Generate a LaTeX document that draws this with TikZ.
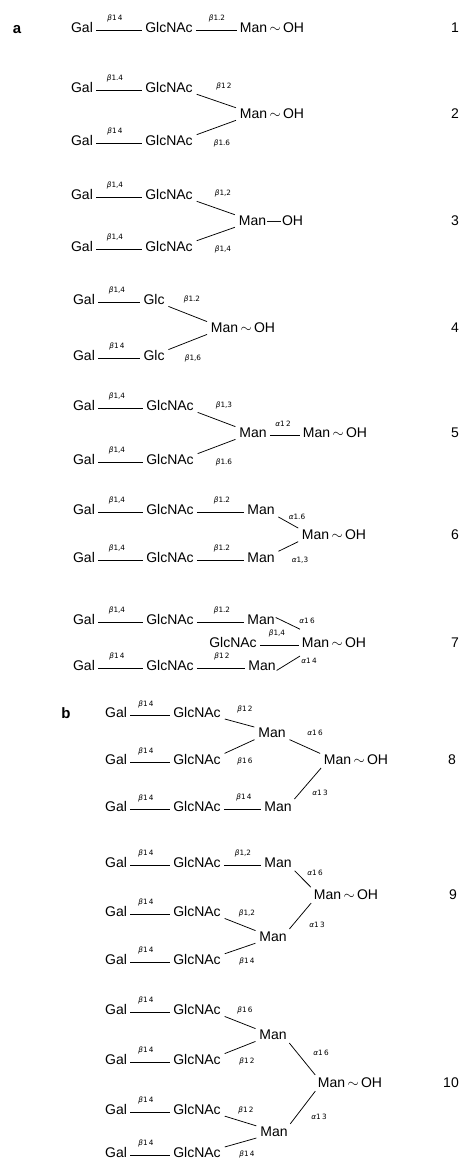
\documentclass[tikz,border=0pt]{standalone}
\usepackage{fontspec}
\setmainfont{Liberation Sans}
\newfontfamily\lblfam{DejaVu Sans}
\newcommand\sugsz{\fontsize{14}{14}\selectfont}
\newcommand\lblsz{\lblfam\fontsize{7.3}{7.3}\selectfont}
\newcommand\bet{{\itshape β}}
\newcommand\alp{{\itshape α}}
\newcommand\MOH{Man\,$\sim$\,OH}
\tikzset{
  sug/.style={inner sep=0pt, text height=9.5pt, text depth=0pt, font=\sugsz},
  lbl/.style={inner sep=0pt, font=\lblsz},
  panel/.style={inner sep=0pt, anchor=base, font=\bfseries\fontsize{15}{15}\selectfont},
  bond/.style={line width=0.75pt, shorten <=3pt, shorten >=3pt},
  sbond/.style={line width=0.75pt, shorten <=4pt, shorten >=4pt}
}
\newcommand\bondH[2]{\draw[bond] ([yshift=-2pt]#1.east) -- ([yshift=-2pt]#2.west);}
\newcommand\bondD[2]{\draw[sbond] (#1.south east) -- (#2.north west);}
\newcommand\bondU[2]{\draw[sbond] (#1.north east) -- (#2.south west);}
\begin{document}
\begin{tikzpicture}[x=1pt,y=-1pt]
\fill[white] (0,0) rectangle (463,1163);
\useasboundingbox (0,0) rectangle (463,1163);

\node[panel] (pa) at (17,33) {a};
\node[panel] (pb) at (66,718) {b};

% ---- 1
\node[sug] (r1a) at (82,28) {Gal};
\node[sug] (r1b) at (169,28) {GlcNAc};
\node[sug] (r1m) at (272,28) {\MOH};
\node[sug] (n1) at (455,28) {1};
\bondH{r1a}{r1b} \bondH{r1b}{r1m}
\node[lbl] (l1a) at (115,18) {\bet1\,4};
\node[lbl] (l1b) at (217,18) {\bet1.2};

% ---- 2
\node[sug] (r2a) at (82,88) {Gal};
\node[sug] (r2b) at (169,88) {GlcNAc};
\node[sug] (r2m) at (272,114) {\MOH};
\node[sug] (r2c) at (82,141) {Gal};
\node[sug] (r2d) at (169,141) {GlcNAc};
\node[sug] (n2) at (455,114) {2};
\bondH{r2a}{r2b} \bondH{r2c}{r2d}
\bondD{r2b}{r2m} \bondU{r2d}{r2m}
\node[lbl] (l2a) at (115,78) {\bet1.4};
\node[lbl] (l2b) at (224,86) {\bet1\,2};
\node[lbl] (l2c) at (115,131) {\bet1\,4};
\node[lbl] (l2d) at (222,143) {\bet1.6};

% ---- 3
\node[sug] (r3a) at (82,195) {Gal};
\node[sug] (r3b) at (169,195) {GlcNAc};
\node[sug] (r3m) at (271,221) {Man\kern1pt---\kern1pt OH};
\node[sug] (r3c) at (82,247) {Gal};
\node[sug] (r3d) at (169,247) {GlcNAc};
\node[sug] (n3) at (455,221) {3};
\bondH{r3a}{r3b} \bondH{r3c}{r3d}
\bondD{r3b}{r3m} \bondU{r3d}{r3m}
\node[lbl] (l3a) at (115,185) {\bet1,4};
\node[lbl] (l3b) at (223,193) {\bet1,2};
\node[lbl] (l3c) at (115,237) {\bet1,4};
\node[lbl] (l3d) at (223,249) {\bet1,4};

% ---- 4
\node[sug] (r4a) at (84,300) {Gal};
\node[sug] (r4b) at (154,300) {Glc};
\node[sug] (r4m) at (243,328) {\MOH};
\node[sug] (r4c) at (84,356) {Gal};
\node[sug] (r4d) at (154,356) {Glc};
\node[sug] (n4) at (455,328) {4};
\bondH{r4a}{r4b} \bondH{r4c}{r4d}
\bondD{r4b}{r4m} \bondU{r4d}{r4m}
\node[lbl] (l4a) at (117,290) {\bet1,4};
\node[lbl] (l4b) at (192,299) {\bet1.2};
\node[lbl] (l4c) at (117,346) {\bet1\,4};
\node[lbl] (l4d) at (193,358) {\bet1,6};

% ---- 5
\node[sug] (r5a) at (84,406) {Gal};
\node[sug] (r5b) at (170,406) {GlcNAc};
\node[sug] (r5m) at (253,433) {Man};
\node[sug] (r5o) at (335,433) {\MOH};
\node[sug] (r5c) at (84,460) {Gal};
\node[sug] (r5d) at (170,460) {GlcNAc};
\node[sug] (n5) at (455,433) {5};
\bondH{r5a}{r5b} \bondH{r5c}{r5d}
\bondD{r5b}{r5m} \bondU{r5d}{r5m}
\bondH{r5m}{r5o}
\node[lbl] (l5a) at (117,396) {\bet1,4};
\node[lbl] (l5b) at (224,405) {\bet1,3};
\node[lbl] (l5e) at (283,424) {\alp1\,2};
\node[lbl] (l5c) at (117,450) {\bet1,4};
\node[lbl] (l5d) at (224,462) {\bet1.6};

% ---- 6
\node[sug] (r6a) at (84,510) {Gal};
\node[sug] (r6b) at (170,510) {GlcNAc};
\node[sug] (r6m) at (261,510) {Man};
\node[sug] (r6o) at (334,535) {\MOH};
\node[sug] (r6c) at (84,558) {Gal};
\node[sug] (r6d) at (170,558) {GlcNAc};
\node[sug] (r6n) at (261,558) {Man};
\node[sug] (n6) at (455,535) {6};
\bondH{r6a}{r6b} \bondH{r6b}{r6m}
\bondH{r6c}{r6d} \bondH{r6d}{r6n}
\bondD{r6m}{r6o} \bondU{r6n}{r6o}
\node[lbl] (l6a) at (117,500) {\bet1,4};
\node[lbl] (l6b) at (222,500) {\bet1.2};
\node[lbl] (l6e) at (297,517) {\alp1.6};
\node[lbl] (l6c) at (117,548) {\bet1,4};
\node[lbl] (l6d) at (222,548) {\bet1.2};
\node[lbl] (l6f) at (300,560) {\alp1,3};

% ---- 7
\node[sug] (r7a) at (84,620) {Gal};
\node[sug] (r7b) at (170,620) {GlcNAc};
\node[sug] (r7m) at (261,620) {Man};
\node[sug] (r7g) at (233,643) {GlcNAc};
\node[sug] (r7o) at (334,643) {\MOH};
\node[sug] (r7c) at (84,666) {Gal};
\node[sug] (r7d) at (170,666) {GlcNAc};
\node[sug] (r7n) at (262,666) {Man};
\node[sug] (n7) at (455,643) {7};
\bondH{r7a}{r7b} \bondH{r7b}{r7m}
\bondH{r7c}{r7d} \bondH{r7d}{r7n}
\bondH{r7g}{r7o}
\draw[sbond, shorten <=1pt, shorten >=2pt] ([yshift=-2pt]r7m.north east) -- ([yshift=8pt]r7o.north west);
\draw[sbond, shorten <=1pt, shorten >=2pt] (r7n.south east) -- ([yshift=-7pt]r7o.south west);
\node[lbl] (l7a) at (117,610) {\bet1,4};
\node[lbl] (l7b) at (222,610) {\bet1.2};
\node[lbl] (l7e) at (307,621) {\alp1\,6};
\node[lbl] (l7g) at (277,633) {\bet1,4};
\node[lbl] (l7c) at (117,656) {\bet1\,4};
\node[lbl] (l7d) at (222,656) {\bet1\,2};
\node[lbl] (l7f) at (309,661) {\alp1\,4};

% ---- 8
\node[sug] (r8a) at (116,713) {Gal};
\node[sug] (r8b) at (197,713) {GlcNAc};
\node[sug] (r8m) at (272,733) {Man};
\node[sug] (r8c) at (116,760) {Gal};
\node[sug] (r8d) at (197,760) {GlcNAc};
\node[sug] (r8o) at (356,760) {\MOH};
\node[sug] (r8e) at (116,807) {Gal};
\node[sug] (r8f) at (197,807) {GlcNAc};
\node[sug] (r8n) at (278,807) {Man};
\node[sug] (n8) at (452,760) {8};
\bondH{r8a}{r8b} \bondH{r8c}{r8d} \bondH{r8e}{r8f} \bondH{r8f}{r8n}
\bondD{r8b}{r8m} \bondU{r8d}{r8m}
\bondD{r8m}{r8o} \bondU{r8n}{r8o}
\node[lbl] (l8a) at (146,704) {\bet1\,4};
\node[lbl] (l8b) at (245,709) {\bet1\,2};
\node[lbl] (l8g) at (315,733) {\alp1\,6};
\node[lbl] (l8c) at (146,751) {\bet1\,4};
\node[lbl] (l8d) at (245,761) {\bet1\,6};
\node[lbl] (l8e) at (146,798) {\bet1\,4};
\node[lbl] (l8f) at (244,797) {\bet1\,4};
\node[lbl] (l8h) at (320,793) {\alp1\,3};

% ---- 9
\node[sug] (r9a) at (116,863) {Gal};
\node[sug] (r9b) at (197,863) {GlcNAc};
\node[sug] (r9m) at (278,863) {Man};
\node[sug] (r9o) at (346,895) {\MOH};
\node[sug] (r9c) at (116,912) {Gal};
\node[sug] (r9d) at (197,912) {GlcNAc};
\node[sug] (r9n) at (273,937) {Man};
\node[sug] (r9e) at (116,960) {Gal};
\node[sug] (r9f) at (197,960) {GlcNAc};
\node[sug] (n9) at (453,895) {9};
\bondH{r9a}{r9b} \bondH{r9b}{r9m}
\bondH{r9c}{r9d} \bondH{r9e}{r9f}
\bondD{r9d}{r9n} \bondU{r9f}{r9n}
\bondD{r9m}{r9o} \bondU{r9n}{r9o}
\node[lbl] (l9a) at (146,853) {\bet1\,4};
\node[lbl] (l9b) at (243,853) {\bet1,2};
\node[lbl] (l9g) at (315,873) {\alp1\,6};
\node[lbl] (l9c) at (146,902) {\bet1\,4};
\node[lbl] (l9d) at (247,913) {\bet1,2};
\node[lbl] (l9h) at (317,925) {\alp1\,3};
\node[lbl] (l9e) at (146,950) {\bet1\,4};
\node[lbl] (l9f) at (247,961) {\bet1\,4};

% ---- 10
\node[sug] (r10a) at (116,1010) {Gal};
\node[sug] (r10b) at (197,1010) {GlcNAc};
\node[sug] (r10m) at (273,1035) {Man};
\node[sug] (r10c) at (116,1060) {Gal};
\node[sug] (r10d) at (197,1060) {GlcNAc};
\node[sug] (r10o) at (350,1083) {\MOH};
\node[sug] (r10e) at (116,1110) {Gal};
\node[sug] (r10f) at (197,1110) {GlcNAc};
\node[sug] (r10n) at (274,1132) {Man};
\node[sug] (r10g) at (116,1153) {Gal};
\node[sug] (r10h) at (197,1153) {GlcNAc};
\node[sug] (n10) at (451,1083) {10};
\bondH{r10a}{r10b} \bondH{r10c}{r10d} \bondH{r10e}{r10f} \bondH{r10g}{r10h}
\bondD{r10b}{r10m} \bondU{r10d}{r10m}
\bondD{r10f}{r10n} \bondU{r10h}{r10n}
\bondD{r10m}{r10o} \bondU{r10n}{r10o}
\node[lbl] (l10a) at (146,1000) {\bet1\,4};
\node[lbl] (l10b) at (245,1010) {\bet1\,6};
\node[lbl] (l10c) at (146,1050) {\bet1\,4};
\node[lbl] (l10d) at (247,1061) {\bet1\,2};
\node[lbl] (l10i) at (321,1053) {\alp1\,6};
\node[lbl] (l10e) at (146,1100) {\bet1\,4};
\node[lbl] (l10f) at (246,1110) {\bet1\,2};
\node[lbl] (l10j) at (319,1117) {\alp1\,3};
\node[lbl] (l10g) at (146,1143) {\bet1\,4};
\node[lbl] (l10h) at (247,1154) {\bet1\,4};
\end{tikzpicture}
\end{document}
